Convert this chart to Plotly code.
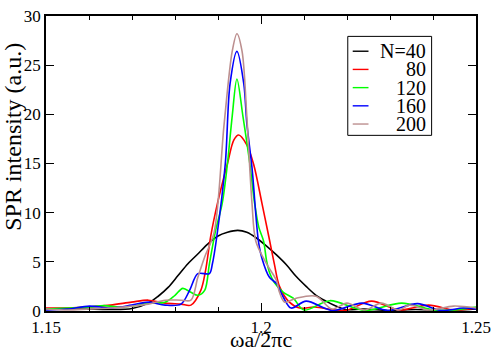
import plotly.graph_objects as go

# spectra (x: omega a / 2 pi c, y: SPR intensity)
x_n40 = [1.15, 1.158, 1.165, 1.17, 1.1738, 1.1761, 1.1784, 1.1807, 1.183, 1.1853, 1.1876,
         1.1899, 1.1922, 1.1946, 1.1967, 1.199, 1.2013, 1.2036, 1.2059, 1.2082, 1.2105,
         1.2128, 1.2151, 1.2174, 1.2196, 1.224, 1.23, 1.236, 1.242, 1.25]
y_n40 = [0.15, 0.2, 0.15, 0.25, 0.8, 1.5, 2.4, 3.6, 4.8, 5.8, 6.8,
         7.6, 8.0, 8.2, 8.0, 7.4, 6.6, 5.7, 4.7, 3.5, 2.5,
         1.6, 1.0, 0.5, 0.15, 0.2, 0.05, 0.15, 0.05, 0.2]

x_n80 = [1.15, 1.155, 1.16, 1.165, 1.1699, 1.1738, 1.1777, 1.1814, 1.1837, 1.186, 1.1871,
         1.1883, 1.1899, 1.1922, 1.1937, 1.1948, 1.1967, 1.1983, 1.2002, 1.2018, 1.2031,
         1.2043, 1.2066, 1.209, 1.2125, 1.2195, 1.2257, 1.232, 1.239, 1.245, 1.25]
y_n80 = [0.3, 0.3, 0.4, 0.6, 0.9, 1.1, 0.8, 0.7, 0.6, 2.1, 4.1,
         7.6, 11.0, 15.0, 17.4, 17.9, 16.9, 14.9, 11.0, 7.6, 4.8,
         2.5, 0.9, 0.3, 0.4, 0.05, 1.0, 0.1, 0.6, 0.1, 0.3]

x_n120 = [1.15, 1.155, 1.1601, 1.1635, 1.167, 1.1699, 1.1738, 1.1777, 1.18, 1.1818, 1.1837,
          1.1853, 1.1869, 1.188, 1.1894, 1.191, 1.1922, 1.1933, 1.1944, 1.1958, 1.1974,
          1.1985, 1.1995, 1.2006, 1.2013, 1.202, 1.2031, 1.2052, 1.2075, 1.21, 1.216,
          1.2242, 1.2327, 1.241, 1.25]
y_n120 = [0.2, 0.3, 0.4, 0.55, 0.4, 0.5, 0.8, 0.9, 1.6, 2.3, 1.9,
          1.6, 2.1, 4.8, 8.1, 11.0, 15.0, 19.8, 23.6, 19.8, 15.0,
          11.0, 8.5, 7.1, 5.1, 3.9, 2.9, 1.9, 1.3, 0.1, 1.05,
          0.05, 0.8, 0.05, 0.4]

x_n160 = [1.15, 1.155, 1.1601, 1.165, 1.1699, 1.1738, 1.1777, 1.1814, 1.1834, 1.1853, 1.188,
          1.1887, 1.1897, 1.1917, 1.1928, 1.1944, 1.196, 1.1967, 1.1979, 1.1994, 1.2002,
          1.202, 1.2036, 1.2052, 1.207, 1.2105, 1.2166, 1.2235, 1.2295, 1.2364, 1.2419,
          1.247, 1.25]
y_n160 = [0.1, 0.2, 0.5, 0.3, 0.6, 0.9, 0.6, 0.7, 2.1, 3.8, 3.8,
          4.8, 7.5, 15.0, 23.1, 26.4, 23.1, 19.1, 14.6, 7.1, 5.4,
          3.4, 2.8, 1.4, 0.3, 1.0, 0.05, 0.8, 0.05, 0.75, 0.05,
          0.3, 0.2]

x_n200 = [1.15, 1.155, 1.16, 1.165, 1.17, 1.1738, 1.1777, 1.1814, 1.1837, 1.1853, 1.1869,
          1.1891, 1.1914, 1.1933, 1.1944, 1.1956, 1.1967, 1.1979, 1.1988, 1.2013, 1.2036,
          1.2043, 1.2055, 1.2082, 1.2128, 1.2165, 1.22, 1.224, 1.228, 1.232, 1.2345,
          1.239, 1.2448, 1.25]
y_n200 = [0.2, 0.1, 0.2, 0.3, 0.5, 0.7, 1.1, 1.1, 1.1, 3.4, 5.5,
          8.0, 18.9, 26.4, 28.2, 26.4, 19.8, 11.0, 7.1, 4.8, 3.1,
          1.9, 0.9, 1.3, 1.5, 0.2, 0.8, 0.1, 0.8, 0.1, 0.6,
          0.1, 0.5, 0.3]

series = [
    ("N=40", x_n40, y_n40, "black"),
    ("80", x_n80, y_n80, "rgb(255,0,0)"),
    ("120", x_n120, y_n120, "rgb(0,255,0)"),
    ("160", x_n160, y_n160, "rgb(0,0,255)"),
    ("200", x_n200, y_n200, "rgb(188,143,143)"),
]

FONT = "Liberation Serif"

fig = go.Figure()
for name, xs, ys, color in series:
    fig.add_trace(go.Scatter(
        x=xs, y=ys, name=name, mode="lines",
        line=dict(color=color, width=1.6, shape="spline", smoothing=0.9),
        showlegend=False,
    ))

fig.update_layout(
    width=498, height=349,
    margin=dict(l=46, r=16, t=7, b=38),
    paper_bgcolor="white", plot_bgcolor="white",
    font=dict(family=FONT, size=17, color="black"),
)

fig.update_xaxes(
    range=[1.15, 1.25], tickvals=[1.15, 1.2, 1.25], ticktext=["1.15", "1.2", "1.25"],
    ticks="inside", ticklen=8, tickwidth=1, tickcolor="black",
    minor=dict(dtick=0.01, tick0=1.15, ticks="inside", ticklen=4, tickcolor="black"),
    showline=True, linecolor="black", linewidth=1.5, mirror="allticks",
    showgrid=False, zeroline=False, ticklabeloverflow="allow",
)
fig.update_yaxes(
    range=[0, 30], tickvals=[0, 5, 10, 15, 20, 25, 30],
    ticks="inside", ticklen=8, tickwidth=1, tickcolor="black",
    showline=True, linecolor="black", linewidth=1.5, mirror="allticks",
    showgrid=False, zeroline=False, ticklabeloverflow="allow",
)

# axis titles
fig.add_annotation(text="ωa/2πc", x=0.5, y=-0.097, xref="paper", yref="paper",
                   xanchor="center", yanchor="middle", showarrow=False,
                   font=dict(family=FONT, size=22))
fig.add_annotation(text="SPR intensity (a.u.)", x=-0.0757, y=0.592, xref="paper", yref="paper",
                   xanchor="center", yanchor="middle", textangle=-90, showarrow=False,
                   font=dict(family=FONT, size=24))

# legend box drawn by hand so the labels can be right aligned like the original
lx0, lx1, ly_top, ly_bot = 0.7018, 0.8968, 0.9309, 0.5954
row0, row_h = 0.8806, 0.0617
fig.add_shape(type="rect", xref="paper", yref="paper",
              x0=lx0, x1=lx1, y0=ly_bot, y1=ly_top,
              line=dict(color="black", width=1), fillcolor="white", layer="above")
for i, (name, xs, ys, color) in enumerate(series):
    yc = row0 - i * row_h
    fig.add_shape(type="line", xref="paper", yref="paper",
                  x0=0.7133, x1=0.75, y0=yc, y1=yc,
                  line=dict(color=color, width=1.4), layer="above")
    fig.add_annotation(text=name, x=0.883, y=yc, xref="paper", yref="paper",
                       xanchor="right", yanchor="middle", showarrow=False,
                       xshift=2, font=dict(family=FONT, size=20))

fig.write_html("out.html", config={"displayModeBar": False},
               post_script="document.body.style.margin='0';")
